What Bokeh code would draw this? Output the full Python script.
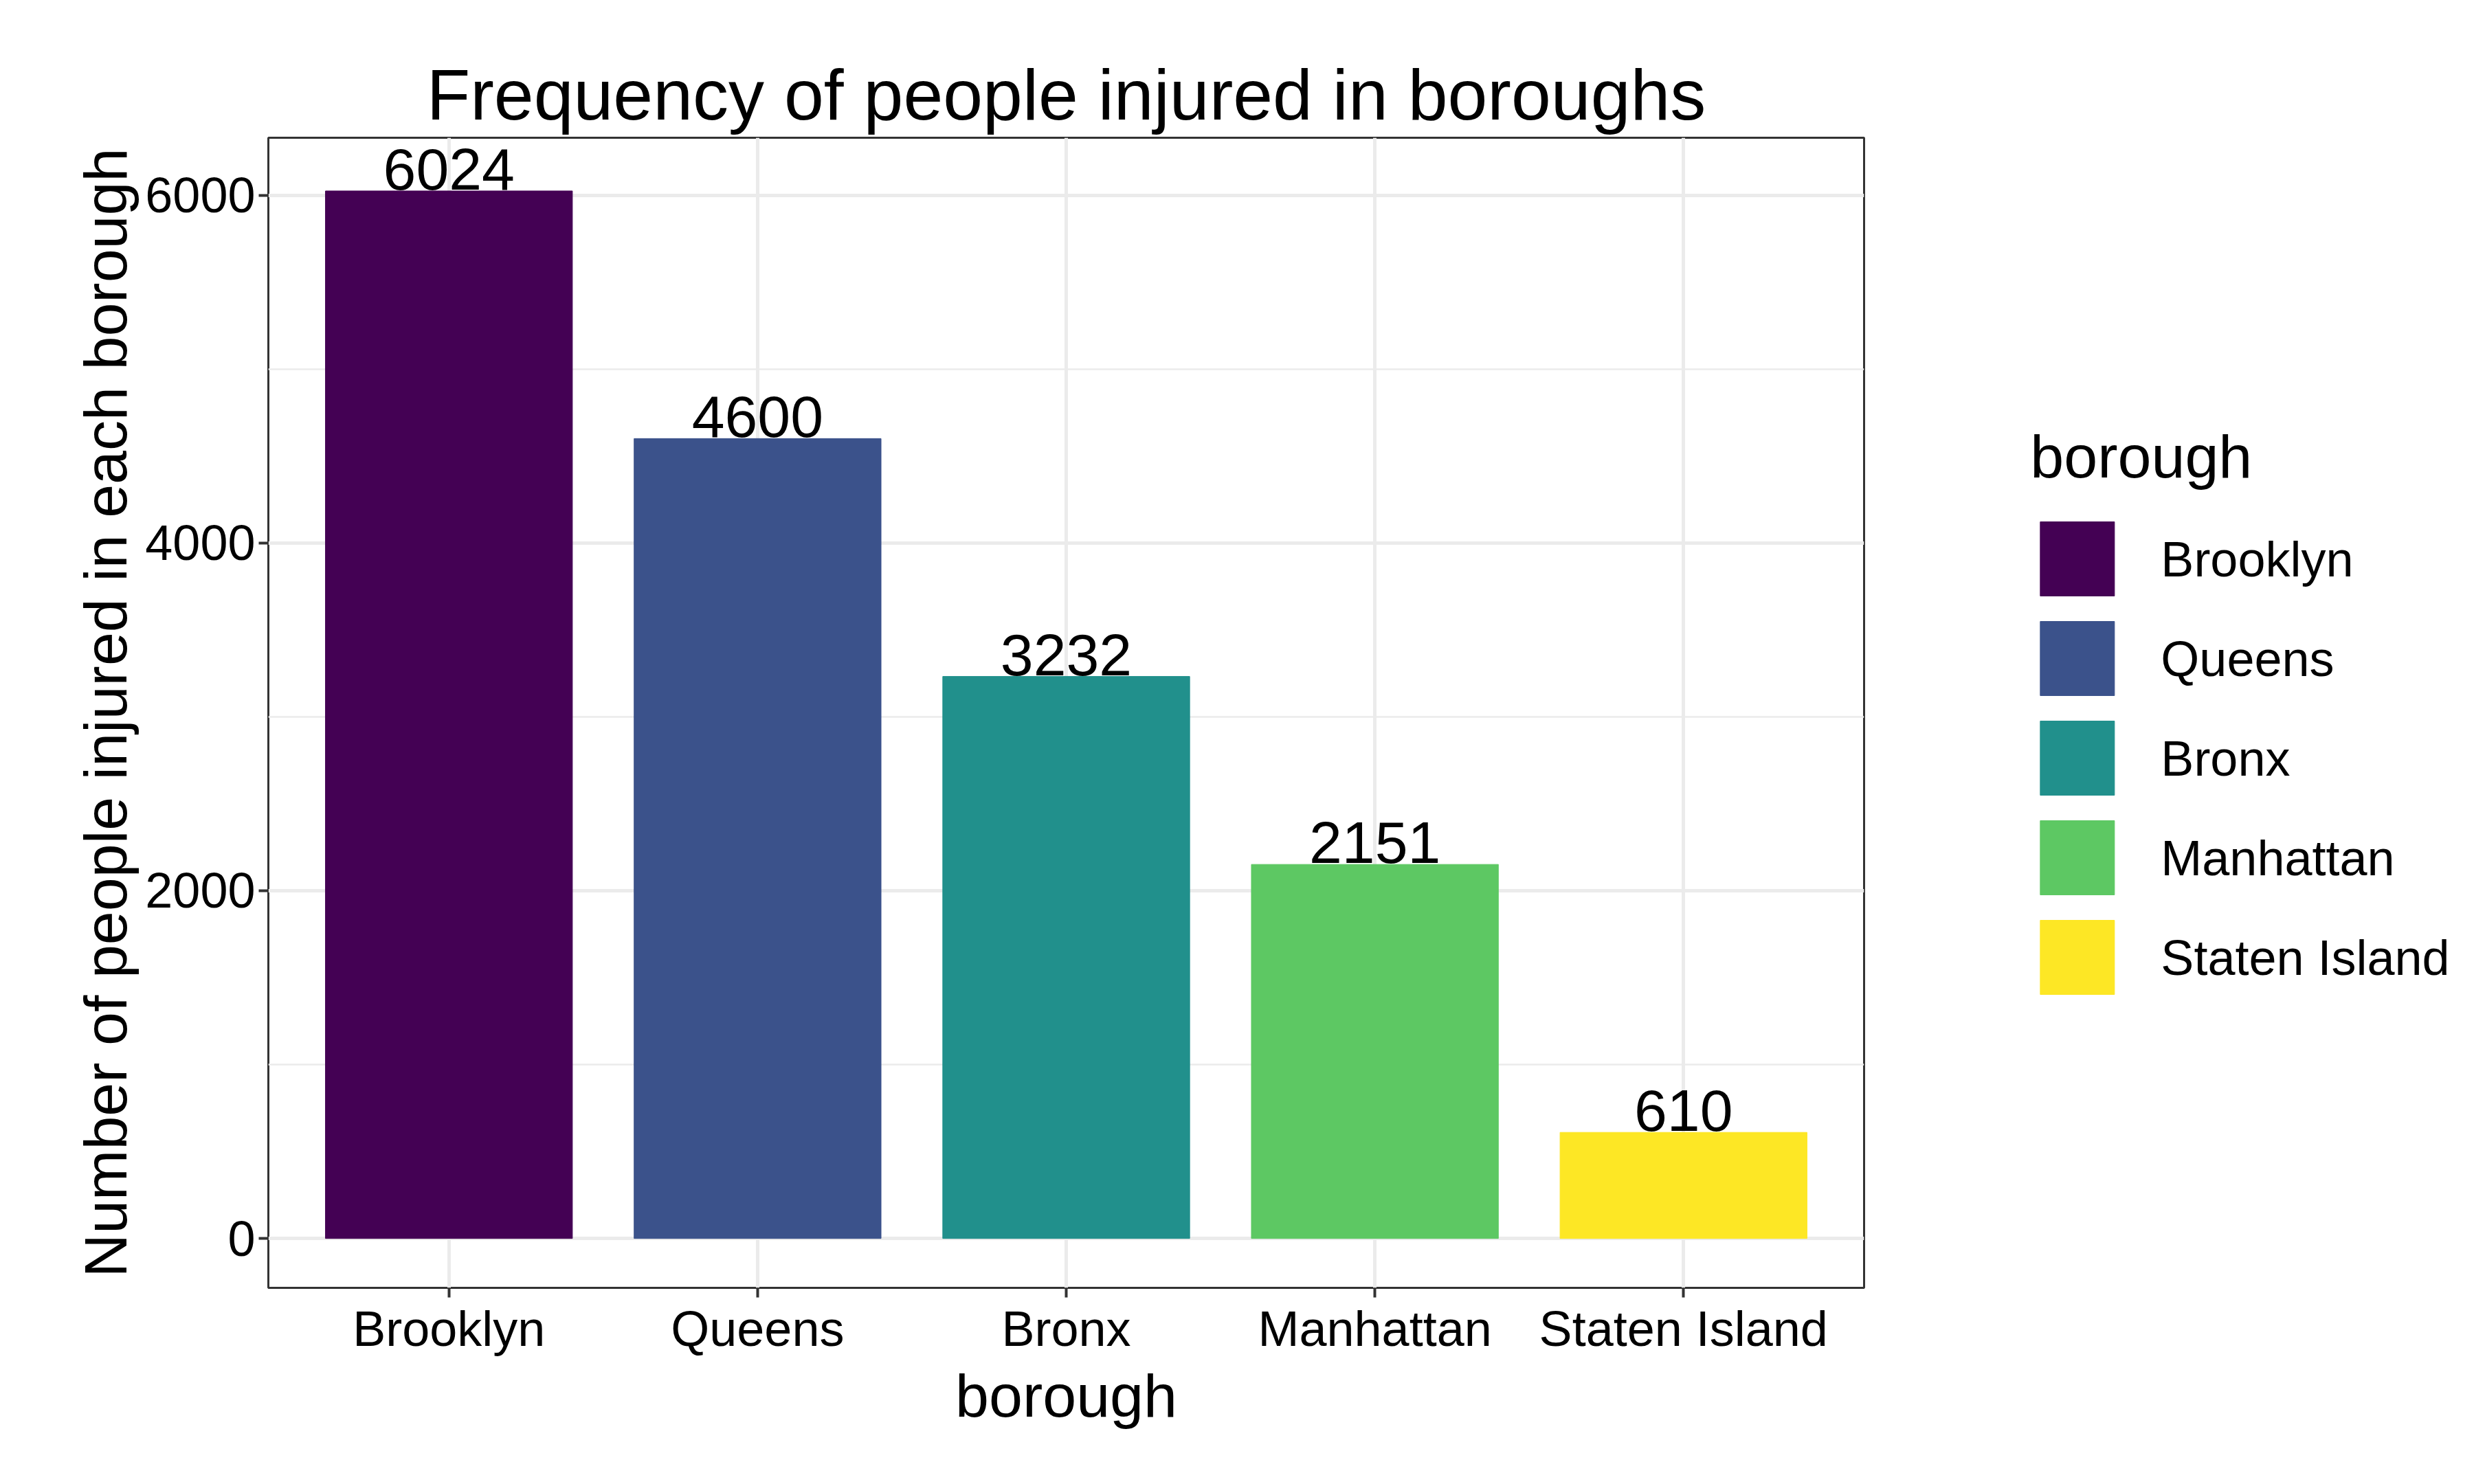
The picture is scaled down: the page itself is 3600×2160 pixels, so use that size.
from bokeh.plotting import figure
from bokeh.models import ColumnDataSource, Legend, LegendItem, FixedTicker, LabelSet
from bokeh.core.properties import value
from bokeh.embed import file_html
from bokeh.resources import INLINE

boroughs = ["Brooklyn", "Queens", "Bronx", "Manhattan", "Staten Island"]
injured = [6024, 4600, 3232, 2151, 610]
colors = ["#440154", "#3B528B", "#21908C", "#5DC863", "#FDE725"]
pos = [1, 2, 3, 4, 5]

FONT = "Liberation Sans"

src = ColumnDataSource(dict(x=pos, y=injured, name=boroughs, color=colors,
                            label=[str(v) for v in injured]))

p = figure(title="Frequency of people injured in boroughs",
           x_range=(0.415, 5.585), y_range=(-284, 6330),
           frame_width=2322, frame_height=1674,
           min_border_left=390, min_border_top=200, min_border_bottom=40,
           output_backend="svg", toolbar_location=None,
           x_axis_label="borough", y_axis_label="Number of people injured in each borough")

bars = p.vbar(x="x", top="y", width=0.8, color="color", source=src)
p.add_layout(LabelSet(x="x", y="y", text="label", source=src, text_align="center",
                      text_baseline="bottom", y_offset=2, text_font=value(FONT),
                      text_font_size="86px", text_color="black"))

p.title.text_font = FONT
p.title.text_font_size = "104px"
p.title.text_font_style = "normal"
p.title.text_color = "black"
p.title.align = "center"

p.xaxis.ticker = FixedTicker(ticks=pos)
p.xaxis.major_label_overrides = {i: b for i, b in zip(pos, boroughs)}
p.yaxis.ticker = FixedTicker(ticks=[0, 2000, 4000, 6000], minor_ticks=[1000, 3000, 5000])
for ax in (p.xaxis[0], p.yaxis[0]):
    ax.axis_line_color = None
    ax.major_tick_line_color = "#333333"
    ax.major_tick_line_width = 4
    ax.major_tick_out = 14
    ax.major_tick_in = 0
    ax.minor_tick_line_color = None
    ax.major_label_text_font = FONT
    ax.major_label_text_font_size = "72px"
    ax.major_label_text_color = "black"
    ax.axis_label_text_font = FONT
    ax.axis_label_text_font_size = "88px"
    ax.axis_label_text_font_style = "normal"
    ax.axis_label_text_color = "black"
p.xgrid.grid_line_color = "#EBEBEB"
p.xgrid.grid_line_width = 5
p.ygrid.grid_line_color = "#EBEBEB"
p.ygrid.grid_line_width = 5
p.ygrid.minor_grid_line_color = "#EBEBEB"
p.ygrid.minor_grid_line_width = 2.5
p.outline_line_color = "#333333"
p.outline_line_width = 3

items = [LegendItem(label=b, renderers=[bars], index=i) for i, b in enumerate(boroughs)]
leg = Legend(items=items, title="borough", title_text_font=FONT, title_text_font_size="88px",
             title_text_font_style="normal", title_text_color="black",
             label_text_font=FONT, label_text_font_size="72px", label_text_color="black",
             glyph_width=135, glyph_height=135, label_height=135, label_standoff=55,
             spacing=10, padding=20,
             border_line_color=None, location="center", margin=60, title_standoff=30)
p.add_layout(leg, "right")

open("out.html", "w").write(file_html(p, INLINE))
